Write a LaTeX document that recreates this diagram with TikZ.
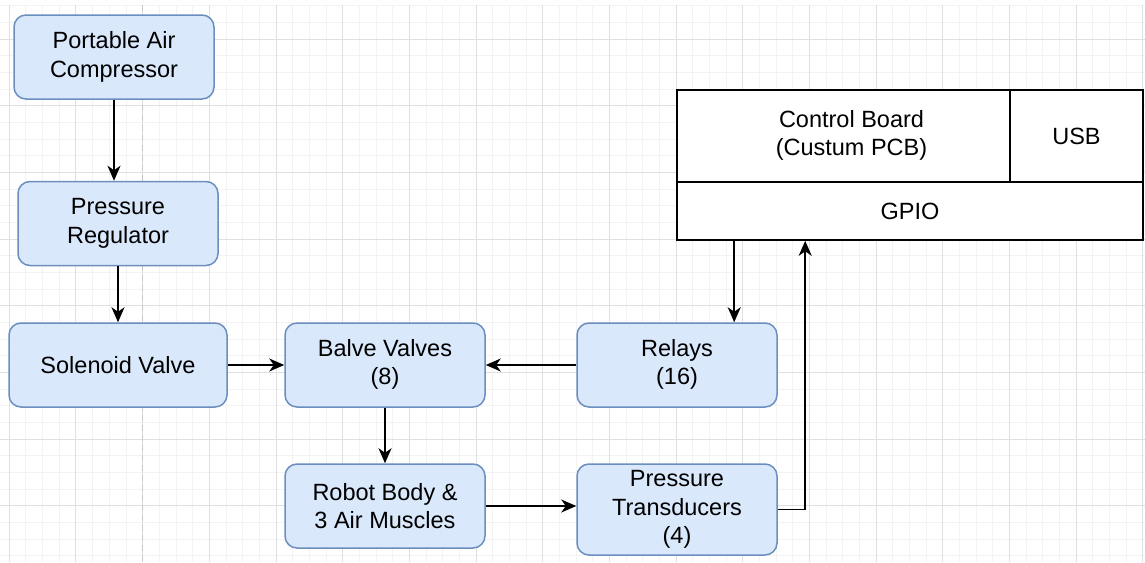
\documentclass[tikz,border=0pt]{standalone}
\usepackage{fontspec}
\setmainfont{Liberation Sans}
\usetikzlibrary{arrows.meta,calc}
\definecolor{boxfill}{HTML}{DAE8FC}
\definecolor{boxline}{HTML}{6C8EBF}
\definecolor{gridminor}{HTML}{F3F3F3}
\definecolor{gridmajor}{HTML}{E0E0E0}
\definecolor{pagebreak}{HTML}{C8C8C8}
\tikzset{
  bluebox/.style={draw=boxline, fill=boxfill, line width=1.5pt, rounded corners=12pt,
    minimum width=200pt, minimum height=84pt, align=center, inner sep=2pt,
    font=\fontsize{23.5}{28.5}\selectfont},
  boardbox/.style={draw=black, fill=white, line width=1.6pt, align=center, inner sep=0pt,
    font=\fontsize{23.5}{28.5}\selectfont},
  arr/.style={draw=black, line width=1.6pt, -{Stealth[length=15pt,width=13pt,inset=4.5pt]}},
  gminor/.style={draw=gridminor, line width=1pt},
  gmajor/.style={draw=gridmajor, line width=1pt},
}
\begin{document}
\begin{tikzpicture}[x=1pt,y=-1pt]
\useasboundingbox (0,0) rectangle (1145,562);
\fill[white] (0,0) rectangle (1145,562);
% grid
\foreach \i in {0,...,68} { \draw[gminor] ({9.33+16.667*\i},5) -- ({9.33+16.667*\i},562); }
\foreach \j in {0,...,33} { \draw[gminor] (0,{5.67+16.667*\j}) -- (1145,{5.67+16.667*\j}); }
\foreach \i in {0,...,17} { \draw[gmajor] ({9.33+66.667*\i},5) -- ({9.33+66.667*\i},562); }
\foreach \j in {0,...,7} { \draw[gmajor] (0,{39+66.667*\j}) -- (1145,{39+66.667*\j}); }
\draw[pagebreak, line width=1.2pt, dash pattern=on 6pt off 4pt] (142.7,5) -- (142.7,562);

% blue nodes
\node[bluebox] (comp) at (114,57) {Portable Air\\Compressor};
\node[bluebox] (reg) at (118,223.5) {Pressure\\Regulator};
\node[bluebox, minimum width=218pt] (sol) at (118,365) {Solenoid Valve};
\node[bluebox] (balve) at (385,365) {\raisebox{-2pt}{\begin{tabular}{@{}c@{}}Balve Valves\\(8)\end{tabular}}};
\node[bluebox] (relays) at (677,365) {\raisebox{-2pt}{\begin{tabular}{@{}c@{}}Relays\\(16)\end{tabular}}};
\node[bluebox] (robot) at (385,506) {Robot Body \&\\3 Air Muscles};
\node[bluebox, minimum height=91pt] (trans) at (677,509.5) {Pressure\\Transducers\\(4)};

% control board
\node[boardbox, minimum width=333pt, minimum height=92pt] (cb) at (843.5,136) {\hspace*{16pt}\raisebox{-3pt}{\begin{tabular}{@{}c@{}}Control Board\\(Custum PCB)\end{tabular}}};
\node[boardbox, minimum width=133pt, minimum height=92pt] (usb) at (1076.5,136) {USB};
\node[boardbox, minimum width=466pt, minimum height=58pt] (gpio) at (910,211) {GPIO};

% connectors
\draw[arr] (comp.south) -- (comp.south |- reg.north);
\draw[arr] (reg.south) -- (sol.north);
\draw[arr] (sol.east) -- (balve.west);
\draw[arr] (relays.west) -- (balve.east);
\draw[arr] (balve.south) -- (robot.north);
\draw[arr] (robot.east) -- (robot.east -| trans.west);
\draw[arr] (trans.east) -| ([xshift=129pt]gpio.south west);
\draw[arr] ([xshift=58pt]gpio.south west) -- ([xshift=58pt]gpio.south west |- relays.north);
\end{tikzpicture}
\end{document}
